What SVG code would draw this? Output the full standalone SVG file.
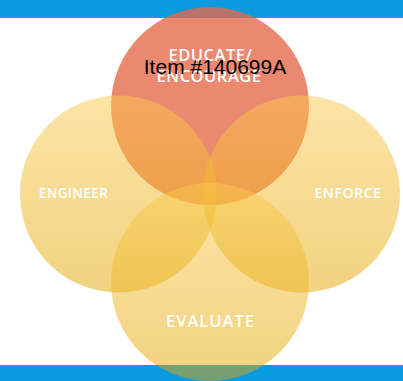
<svg xmlns="http://www.w3.org/2000/svg" width="403" height="381" viewBox="0 0 403 381">
<style>
.lbl{font-family:"Open Sans","Noto Sans","Liberation Sans",sans-serif;font-weight:600;fill:#ffffff;text-anchor:middle}
.y{fill:url(#gy);opacity:0.5}
.r{fill:#e66849;opacity:0.79}
</style>
<defs>
<linearGradient id="gy" x1="0" y1="0" x2="0" y2="1">
<stop offset="0" stop-color="#fbca50"/>
<stop offset="1" stop-color="#e3a500"/>
</linearGradient>
</defs>
<rect x="0" y="0" width="403" height="381" fill="#ffffff"/>
<rect x="0" y="0" width="403" height="18" fill="#0a9ade"/>
<rect x="0" y="365" width="403" height="16" fill="#0a9ade"/>
<g id="educate">
<circle class="r" cx="210" cy="106" r="99"/>
</g>
<g id="engineer">
<circle class="y" cx="118.5" cy="194" r="98.5"/>
</g>
<g id="enforce">
<circle class="y" cx="301.5" cy="194" r="98.5"/>
</g>
<g id="evaluate">
<circle class="y" cx="210" cy="282" r="99"/>
</g>
<g id="labels">
<text class="lbl" x="210.5" y="61" font-size="16.5" letter-spacing="0.5">EDUCATE/</text>
<text class="lbl" x="209" y="82" font-size="16.5" letter-spacing="0.5">ENCOURAGE</text>
<text class="lbl" x="73.5" y="198" font-size="13.5" letter-spacing="0.4">ENGINEER</text>
<text class="lbl" x="348" y="198" font-size="14" letter-spacing="0.6">ENFORCE</text>
<text class="lbl" x="210.5" y="327" font-size="16.5" letter-spacing="1">EVALUATE</text>
</g>
<g id="connectors"></g>
<text x="215" y="74" font-family="'Liberation Sans',Arial,sans-serif" font-size="21" fill="#000000" text-anchor="middle">Item #140699A</text>
</svg>
